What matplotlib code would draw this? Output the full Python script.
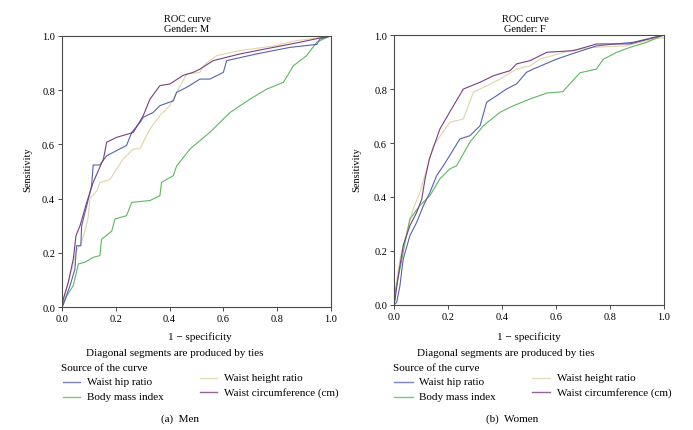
import matplotlib
matplotlib.use("Agg")
import matplotlib.pyplot as plt
from matplotlib.lines import Line2D

plt.rcParams['font.family'] = ['Liberation Serif', 'DejaVu Serif']

# ---- data ----
series_names = ["Waist hip ratio", "Body mass index",
                "Waist height ratio", "Waist circumference (cm)"]
series_colors = ["#5563ad", "#5cb85f", "#e0d4a8", "#7b3f7e"]

# Men
men_whr_fpr = [0, .005, .03, .048, .054, .07, .073, .092, .11, .116, .141, .166, .24, .259,
               .29, .302, .339, .364, .414, .426, .464, .513, .55, .60, .612, .724, .848,
               .947, .959, 1.0]
men_whr_tpr = [0, .01, .079, .14, .226, .226, .30, .374, .448, .524, .524, .558, .596, .644,
               .681, .70, .718, .743, .761, .792, .811, .841, .841, .866, .909, .934, .958,
               .969, .989, 1.0]
men_bmi_fpr = [0, .017, .042, .061, .085, .116, .141, .147, .185, .197, .24, .259, .327,
               .364, .37, .414, .426, .476, .55, .625, .699, .761, .823, .86, .91, .947,
               .996, 1.0]
men_bmi_tpr = [0, .04, .079, .159, .165, .183, .19, .25, .28, .325, .337, .386, .393,
               .411, .46, .485, .52, .583, .645, .718, .767, .804, .829, .89, .928, .977,
               1.0, 1.0]
men_whtr_fpr = [0, .02, .04, .05, .073, .085, .097, .104, .13, .141, .178, .227, .265, .29,
                .327, .364, .401, .426, .464, .513, .525, .575, .662, .786, .872, .97, 1.0]
men_whtr_tpr = [0, .08, .15, .20, .24, .28, .33, .40, .43, .46, .47, .546, .583, .584,
                .657, .706, .743, .792, .86, .866, .89, .928, .946, .963, .983, .995, 1.0]
men_wc_fpr = [0, .005, .023, .042, .052, .067, .092, .116, .154, .166, .203, .265, .302,
              .327, .364, .401, .451, .488, .513, .562, .662, .786, .885, .97, 1.0]
men_wc_tpr = [0, .03, .09, .177, .263, .30, .386, .46, .546, .608, .626, .644, .706,
              .767, .817, .823, .855, .866, .878, .909, .934, .958, .977, .995, 1.0]

# Women
women_whr_fpr = [0, .01, .022, .034, .059, .084, .109, .133, .158, .183, .244, .281, .319,
                 .343, .38, .417, .454, .491, .516, .603, .677, .751, .886, 1.0]
women_whr_tpr = [0, .01, .071, .17, .257, .306, .368, .417, .479, .516, .615, .627, .664,
                 .751, .775, .80, .819, .862, .874, .911, .936, .96, .973, 1.0]
women_bmi_fpr = [0, .004, .022, .041, .059, .096, .133, .17, .207, .232, .281, .331, .393,
                 .442, .504, .566, .625, .652, .689, .75, .775, .825, .874, .936, 1.0]
women_bmi_tpr = [0, .047, .133, .232, .319, .368, .405, .467, .504, .516, .603, .664, .714,
                 .738, .763, .785, .79, .82, .86, .874, .91, .936, .954, .973, 1.0]
women_whtr_fpr = [0, .004, .022, .047, .071, .096, .121, .146, .207, .257, .294, .343, .393,
                  .454, .504, .541, .652, .738, .862, .96, 1.0]
women_whtr_tpr = [0, .047, .17, .269, .356, .417, .504, .59, .677, .689, .788, .812, .837,
                  .874, .886, .911, .942, .954, .96, .985, .99]
women_wc_fpr = [0, .004, .016, .034, .059, .084, .103, .115, .131, .17, .22, .257, .319,
                .368, .43, .454, .504, .566, .664, .751, .874, 1.0]
women_wc_tpr = [0, .022, .109, .22, .294, .343, .393, .467, .541, .652, .738, .80, .825,
                .849, .868, .893, .905, .936, .942, .967, .967, 1.0]

ticks = [0.0, 0.2, 0.4, 0.6, 0.8, 1.0]

W, H = 693, 431


def fxp(px):
    return px / W


def fyp(py):
    return 1 - py / H


fig = plt.figure(figsize=(W / 100, H / 100), dpi=100)

panels = [
    dict(box=(62, 37, 331, 308), gender="M", tcx=187, ylx=28, xlc=200, diag=175,
         cap="(a)  Men", capx=180, src=61, c1=(63, 80, 87), c2=(200, 217, 224),
         curves=[(men_whr_fpr, men_whr_tpr), (men_bmi_fpr, men_bmi_tpr),
                 (men_whtr_fpr, men_whtr_tpr), (men_wc_fpr, men_wc_tpr)]),
    dict(box=(394, 36, 664, 306), gender="F", tcx=525, ylx=357, xlc=529, diag=506,
         cap="(b)  Women", capx=512, src=393, c1=(394, 413, 419), c2=(532, 550, 557),
         curves=[(women_whr_fpr, women_whr_tpr), (women_bmi_fpr, women_bmi_tpr),
                 (women_whtr_fpr, women_whtr_tpr), (women_wc_fpr, women_wc_tpr)]),
]

spine_col = "#4a4a4a"
for p in panels:
    x0, y0, x1, y1 = p["box"]
    ax = fig.add_axes([fxp(x0), fyp(y1), (x1 - x0) / W, (y1 - y0) / H])
    # draw lighter curves first so purple sits on top
    for i in [2, 1, 0, 3]:
        fpr, tpr = p["curves"][i]
        ax.plot(fpr, tpr, color=series_colors[i], lw=0.8)
    ax.set_xlim(0, 1)
    ax.set_ylim(0, 1)
    ax.set_xticks(ticks)
    ax.set_yticks(ticks)
    ax.set_xticklabels([f"{t:.1f}" for t in ticks])
    ax.set_yticklabels([f"{t:.1f}" for t in ticks])
    ax.tick_params(direction="out", length=3, width=0.7, color=spine_col,
                   labelsize=7.5, pad=2)
    for s in ax.spines.values():
        s.set_color(spine_col)
        s.set_linewidth(0.8)

    fig.text(fxp(p["tcx"]), fyp(20), "ROC curve", ha="center", va="center", fontsize=7.5)
    fig.text(fxp(p["tcx"]), fyp(30), "Gender: " + p["gender"], ha="center", va="center",
             fontsize=7.5)
    fig.text(fxp(p["ylx"]), fyp(170), "Sensitivity", rotation=90, ha="center", va="center",
             fontsize=7.5)
    fig.text(fxp(p["xlc"]), fyp(337), "1 \u2212 specificity", ha="center", va="center",
             fontsize=8)
    fig.text(fxp(p["diag"]), fyp(353), "Diagonal segments are produced by ties",
             ha="center", va="center", fontsize=8)
    fig.text(fxp(p["src"]), fyp(369), "Source of the curve", ha="left", va="center",
             fontsize=8)

    # legend entries, two columns, right column sits a little higher
    rows = [(p["c1"], 383, 0), (p["c1"], 398, 1), (p["c2"], 379, 2), (p["c2"], 393, 3)]
    for (hx0, hx1, tx), yy, i in rows:
        fig.add_artist(Line2D([fxp(hx0), fxp(hx1)], [fyp(yy), fyp(yy)],
                              color=series_colors[i], lw=1.0, alpha=0.8))
        fig.text(fxp(tx), fyp(yy), series_names[i], ha="left", va="center", fontsize=8)

    fig.text(fxp(p["capx"]), fyp(419), p["cap"], ha="center", va="center", fontsize=8)

fig.savefig("out.png", dpi=100)
